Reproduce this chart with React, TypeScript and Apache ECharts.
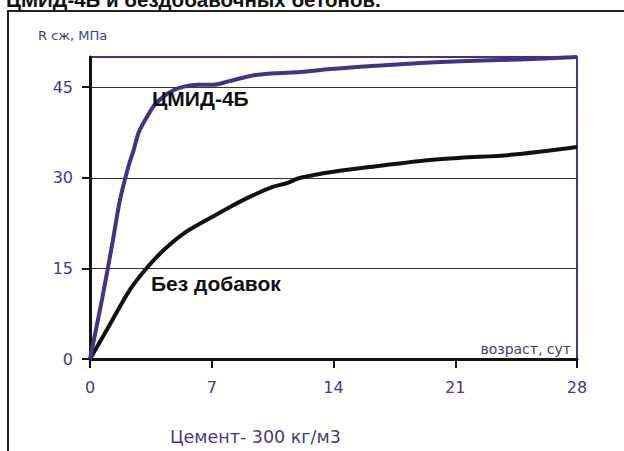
import React, { useEffect, useRef } from "react";
import * as echarts from "echarts";

const titleText = "ЦМИД-4Б и бездобавочных бетонов.";
const yAxisName = "R сж, МПа";
const xAxisName = "возраст, сут";
const footnote = "Цемент- 300 кг/м3";
const seriesNames = ["ЦМИД-4Б", "Без добавок"];
const xTicks = [0, 7, 14, 21, 28];
const yTicks = [0, 15, 30, 45];

// [age in days, strength MPa]
const cmidData: [number, number][] = [
  [0, 0], [0.7, 10], [1.32, 19.7], [1.72, 26.3], [2.2, 31.8], [2.5, 34.5], [2.8, 37.5],
  [3.3, 40.2], [3.7, 42], [4.2, 43.4], [4.8, 44.5], [5.4, 45.1], [6.2, 45.4],
  [7.1, 45.4], [8.0, 46], [9.3, 46.9], [10.6, 47.3], [12.1, 47.5], [13.8, 48],
  [16.7, 48.6], [19, 49], [21.3, 49.3], [24.7, 49.6], [28, 50],
];
const plainData: [number, number][] = [
  [0, 0], [1.1, 5.5], [2.3, 11.5], [3.3, 15.2], [4.3, 18.2], [5.4, 20.8], [6.7, 23],
  [8.0, 25.1], [9.3, 27], [10.5, 28.5], [11.3, 29.1], [12.1, 30], [14, 31],
  [16.7, 32], [19, 32.8], [21.3, 33.3], [24.2, 33.8], [28, 35.1],
];

const PURPLE = "#3d3586";
const TEXT = "#3f3a8e";

export default function App() {
  const ref = useRef<HTMLDivElement>(null);
  useEffect(() => {
    if (!ref.current) return;
    const chart = echarts.init(ref.current, null, { renderer: "svg" });
    chart.setOption({
      animation: false,
      backgroundColor: "#ffffff",
      grid: {
        left: 90,
        top: 57,
        right: 47,
        bottom: 92,
        show: true,
        borderColor: PURPLE,
        borderWidth: 2,
      },
      xAxis: {
        type: "value",
        min: 0,
        max: 28,
        interval: 7,
        axisLine: { show: true, lineStyle: { color: "#111", width: 3 } },
        axisTick: { show: true, length: 9, lineStyle: { color: "#111", width: 2 } },
        axisLabel: {
          color: TEXT,
          fontSize: 16,
          margin: 20,
          fontFamily: "DejaVu Sans",
          customValues: xTicks,
        },
        splitLine: { show: false },
      },
      yAxis: {
        type: "value",
        min: 0,
        max: 50,
        interval: 15,
        axisLine: { show: true, lineStyle: { color: "#111", width: 3 } },
        axisTick: {
          show: true,
          length: 8,
          lineStyle: { color: "#111", width: 2 },
          customValues: yTicks,
        },
        axisLabel: {
          color: TEXT,
          fontSize: 16,
          margin: 17,
          fontFamily: "DejaVu Sans",
          customValues: yTicks,
        },
        splitLine: { show: true, lineStyle: { color: "#333", width: 1 } },
      },
      series: [
        {
          name: seriesNames[0],
          type: "line",
          data: cmidData,
          showSymbol: false,
          smooth: 0.3,
          lineStyle: { color: PURPLE, width: 4 },
          z: 3,
        },
        {
          name: seriesNames[1],
          type: "line",
          data: plainData,
          showSymbol: false,
          smooth: 0.3,
          lineStyle: { color: "#111", width: 4 },
          z: 2,
        },
      ],
      graphic: [
        {
          type: "rect",
          shape: { x: 8, y: 11, width: 700, height: 600 },
          style: { fill: "none", stroke: "#222", lineWidth: 2 },
          silent: true,
        },
        {
          type: "text",
          x: 6,
          y: -1,
          style: {
            text: titleText,
            fontSize: 20.5,
            fontWeight: "bold",
            fontFamily: "Liberation Sans",
            fill: "#111",
            verticalAlign: "middle",
          },
        },
        {
          type: "text",
          x: 38,
          y: 35,
          style: {
            text: yAxisName,
            fontSize: 13,
            fontFamily: "DejaVu Sans",
            fill: TEXT,
            verticalAlign: "middle",
          },
        },
        {
          type: "text",
          x: 571,
          y: 349,
          style: {
            text: xAxisName,
            fontSize: 14,
            fontFamily: "DejaVu Sans",
            fill: TEXT,
            align: "right",
            verticalAlign: "middle",
          },
        },
        {
          type: "text",
          x: 170,
          y: 437,
          style: {
            text: footnote,
            fontSize: 17.5,
            fontFamily: "DejaVu Sans",
            fill: TEXT,
            verticalAlign: "middle",
          },
        },
        {
          type: "text",
          x: 152,
          y: 98,
          z: 10,
          style: {
            text: seriesNames[0],
            fontSize: 21,
            fontWeight: "bold",
            fontFamily: "Liberation Sans",
            fill: "#111",
            verticalAlign: "middle",
          },
        },
        {
          type: "text",
          x: 151,
          y: 283,
          z: 10,
          style: {
            text: seriesNames[1],
            fontSize: 21,
            fontWeight: "bold",
            fontFamily: "Liberation Sans",
            fill: "#111",
            verticalAlign: "middle",
          },
        },
      ],
    });
    return () => chart.dispose();
  }, []);
  return (
    <div
      ref={ref}
      style={{ position: "fixed", left: 0, top: 0, width: 624, height: 451 }}
    />
  );
}
